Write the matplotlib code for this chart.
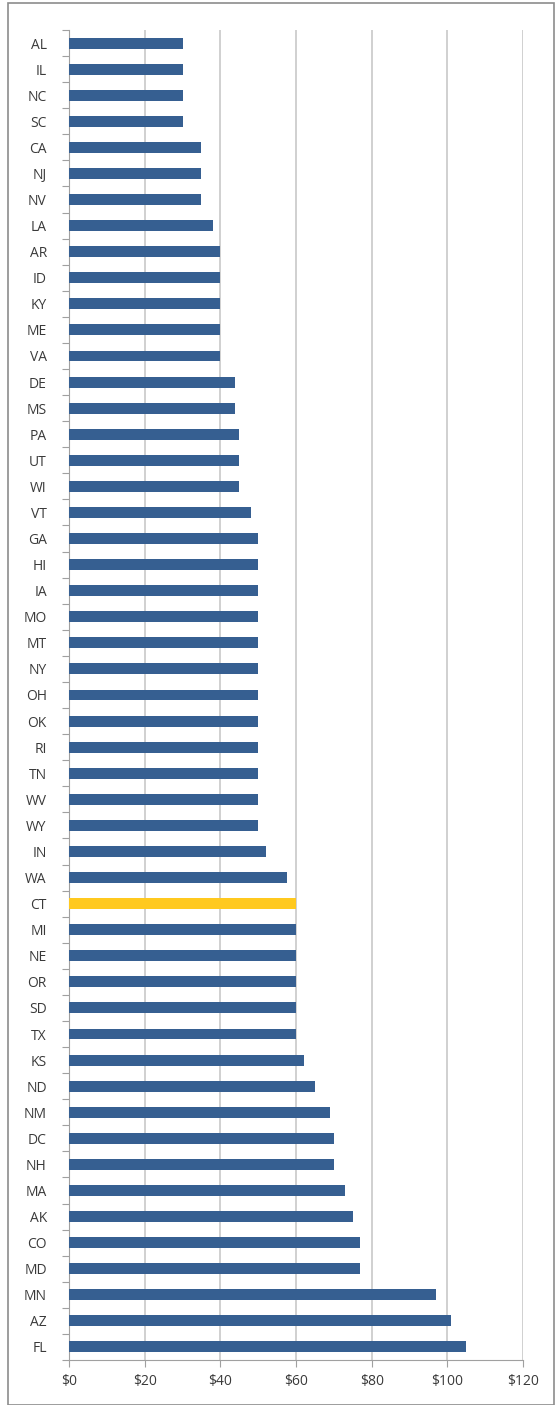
import matplotlib
matplotlib.use("Agg")
import matplotlib.pyplot as plt
from matplotlib.patches import Rectangle

states = ["AL","IL","NC","SC","CA","NJ","NV","LA","AR","ID","KY","ME","VA","DE","MS","PA","UT","WI","VT",
          "GA","HI","IA","MO","MT","NY","OH","OK","RI","TN","WV","WY","IN","WA","CT","MI","NE","OR","SD","TX",
          "KS","ND","NM","DC","NH","MA","AK","CO","MD","MN","AZ","FL"]
values = [30,30,30,30,35,35,35,38,40,40,40,40,40,44,44,45,45,45,48,
          50,50,50,50,50,50,50,50,50,50,50,50,52,57.5,60,60,60,60,60,60,
          62,65,69,70,70,73,75,77,77,97,101,105]
highlight = "CT"
xticks = [0,20,40,60,80,100,120]
xticklabels = ["$0","$20","$40","$60","$80","$100","$120"]

plt.rcParams['font.family'] = ['Open Sans', 'DejaVu Sans']

fig = plt.figure(figsize=(5.55, 14.05), dpi=100)
ax = fig.add_axes([69/555, 1-1360/1405, (523-69)/555, (1360-30)/1405])

colors = ["#FFC91F" if s == highlight else "#365F91" for s in states]
y = list(range(len(states)))
ax.barh(y, values, height=0.42, color=colors, zorder=3)
ax.set_ylim(len(states)-0.5, -0.5)
ax.set_xlim(0, 120)
ax.set_xticks(xticks)
ax.set_xticklabels(xticklabels, fontsize=10, color="#3A3A3A")
ax.set_yticks(y)
ax.set_yticklabels(states, fontsize=10, color="#3A3A3A")
ax.tick_params(axis='y', length=0, pad=16)
ax.set_yticks([i-0.5 for i in range(len(states)+1)], minor=True)
ax.tick_params(axis='y', which='minor', length=5, color="#A0A0A0", width=0.8)
ax.tick_params(axis='x', length=5, color="#A0A0A0", width=0.8, pad=5)
ax.xaxis.grid(True, color="#C8C8C8", linewidth=1.2, zorder=0)
for side in ["top", "right"]:
    ax.spines[side].set_visible(False)
for side in ["left", "bottom"]:
    ax.spines[side].set_color("#A0A0A0")
    ax.spines[side].set_linewidth(0.8)

fig.patches.append(Rectangle((8/555, 0), 546/555, 1-3/1405, transform=fig.transFigure,
                             fill=False, edgecolor="#8C8C8C", linewidth=1.2))
fig.savefig("out.png", dpi=100)
